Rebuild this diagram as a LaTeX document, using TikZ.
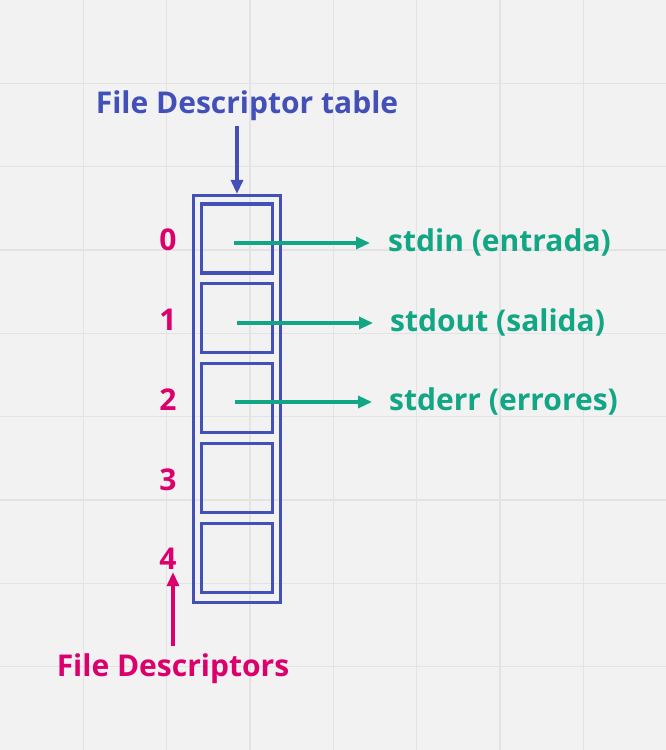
\documentclass[tikz,border=0pt]{standalone}
\usepackage{fontspec}
\setmainfont{Open Sans}
\usepackage{tikz}
\usetikzlibrary{positioning,arrows.meta}
\definecolor{fdblue}{HTML}{4350B8}
\definecolor{fdpink}{HTML}{DB006C}
\definecolor{fdgreen}{HTML}{12A684}
\definecolor{paper}{HTML}{F2F2F2}
\definecolor{gridline}{HTML}{E3E3E3}

\tikzset{
  lbl/.style={font=\fontsize{30}{34}\selectfont\bfseries, inner sep=2pt},
  cell/.style={draw=fdblue, line width=3.2pt, minimum width=71pt, minimum height=69pt, inner sep=0pt},
  tip/.style={-{Triangle[length=14pt,width=12pt]}, line width=3.2pt},
}

\begin{document}
\begin{tikzpicture}[x=1pt,y=-1pt]
      % background and grid
      \fill[paper] (0,0) rectangle (666,750);
      \useasboundingbox (0,0) rectangle (666,750);
      \foreach \k in {1,...,7}
        \draw[gridline, line width=1.2pt] (83.33*\k,0) -- (83.33*\k,750);
      \foreach \k in {1,...,8}
        \draw[gridline, line width=1.2pt] (0,83.33*\k) -- (666,83.33*\k);
      % Define nodes
      \node[draw=fdblue, line width=3.2pt, minimum width=87pt, minimum height=407pt, inner sep=0pt]
        (table) at (237,399) {};
      \foreach \i in {0,...,4} {
        \node[cell] (cell\i) at (236.7,238.5+79.8*\i) {};
        \node[lbl, text=fdpink] (n\i) at (168,240+79.8*\i) {\i};
      }
      \node[lbl, text=fdgreen, anchor=west] (in)  at (386,242) {stdin (entrada)};
      \node[lbl, text=fdgreen, anchor=west] (out) at (388,322) {stdout (salida)};
      \node[lbl, text=fdgreen, anchor=west] (err) at (387,401) {stderr (errores)};
      \node[lbl, text=fdblue] (title) at (247,106) {File Descriptor table};
      \node[lbl, text=fdpink] (fds) at (173,669) {File Descriptors};
      % Connect the nodes
      \draw[tip, fdblue] (title.south -| table.north) ++(0,3) -- (table.north);
      \draw[tip, fdpink] (fds.north) ++(0,-6) -- (fds.north |- n4.south);
      \draw[tip, fdgreen] ([xshift=-3pt,yshift=-1pt]cell0.center |- in.west) -- ([xshift=-16pt,yshift=-1pt]in.west);
      \draw[tip, fdgreen] ([yshift=-1pt]cell1.center |- out.west) -- ([xshift=-15pt,yshift=-1pt]out.west);
      \draw[tip, fdgreen] ([xshift=-2pt,yshift=-1pt]cell2.center |- err.west) -- ([xshift=-15pt,yshift=-1pt]err.west);
\end{tikzpicture}
\end{document}
